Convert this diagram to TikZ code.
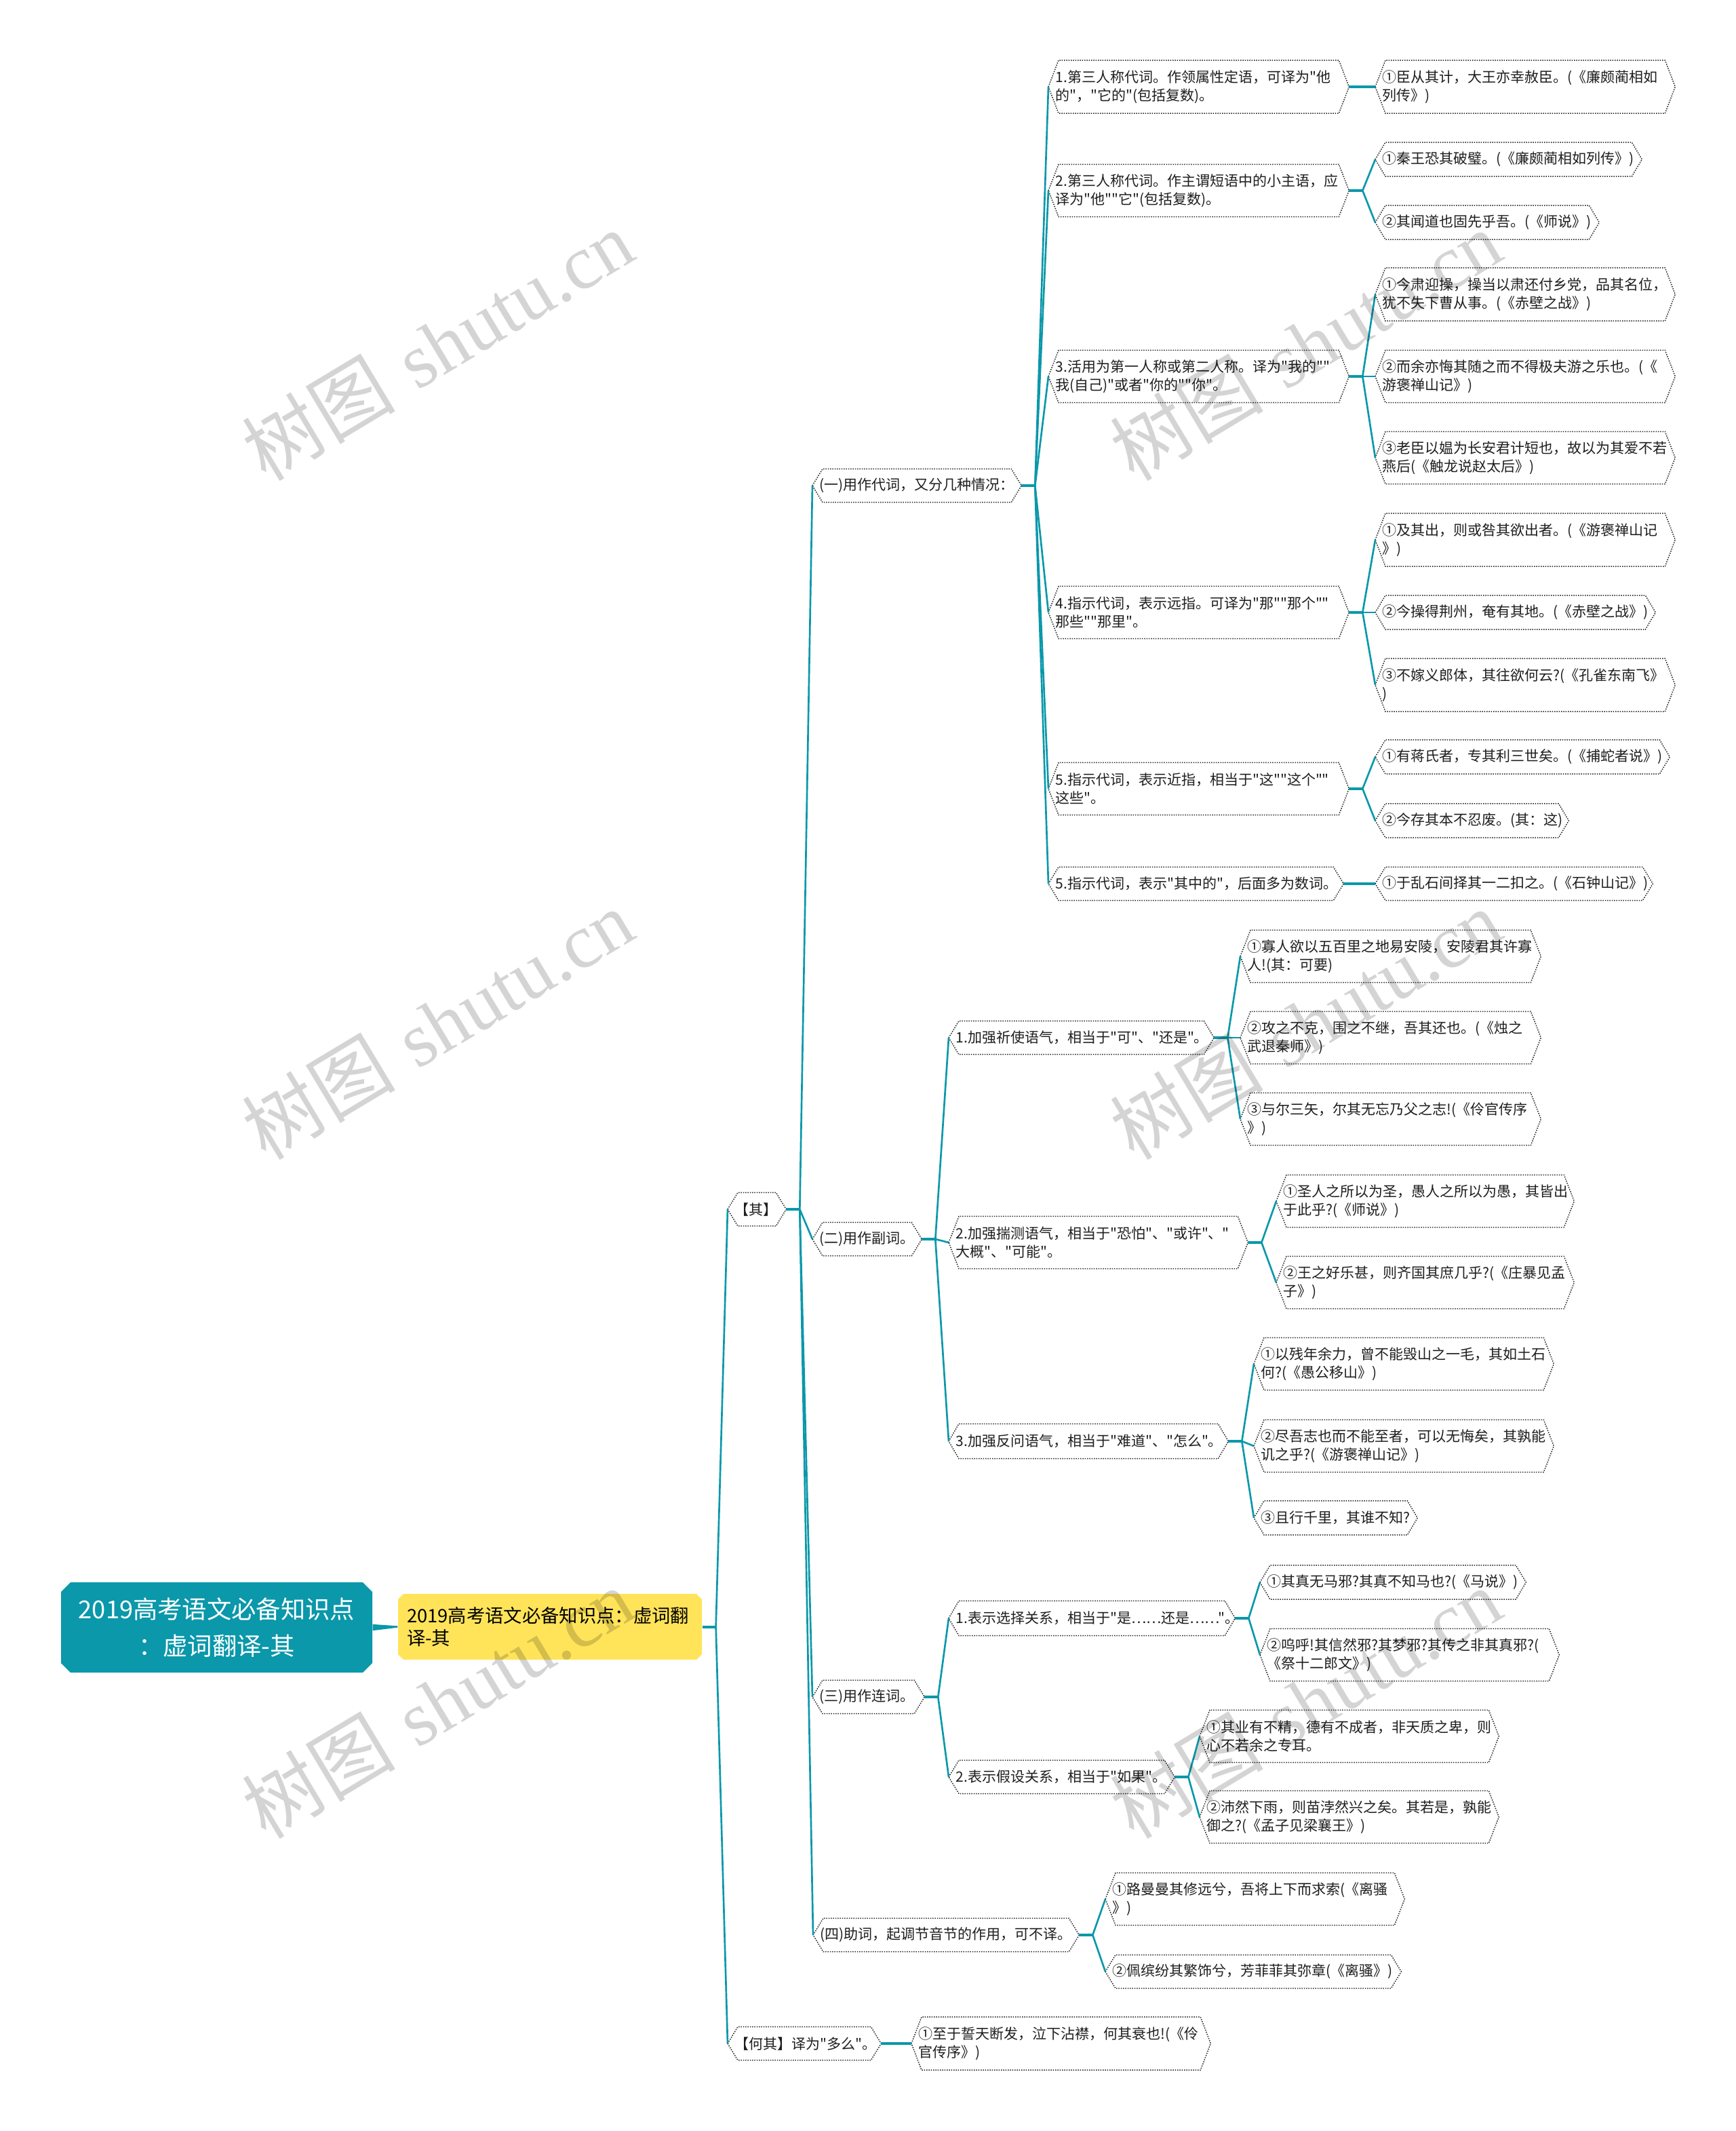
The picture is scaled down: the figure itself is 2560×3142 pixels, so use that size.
\documentclass[tikz,border=0pt]{standalone}
\usepackage{fontspec}
\setmainfont{Noto Sans CJK SC}[Ligatures=TeXOff]
\newfontfamily\wmserif{Liberation Serif}
\definecolor{tealc}{RGB}{10,152,170}
\definecolor{yelc}{RGB}{255,228,90}
\definecolor{txtc}{RGB}{30,30,30}
\tikzset{
 hexn/.style={rectangle, draw=none, inner xsep=3pt, inner ysep=0pt, align=left,
   font=\fontsize{6.3}{8}\selectfont, text=txtc, anchor=west},
 hexb/.style={draw=black!85, line width=0.45pt, dash pattern=on 0.45pt off 0.55pt},
 stub/.style={draw=tealc, line width=1.2pt},
 br/.style={draw=tealc, line width=0.8pt},
 wm/.style={text=black, opacity=0.17, rotate=31, font=\fontsize{34}{34}\selectfont, inner sep=0pt}
}
\newcommand\hx[6]{%
 \pgfmathsetmacro\hxw{(#3-#2)*0.3-6}%
 \pgfmathsetmacro\hxh{#5*0.3}%
 \node[hexn, text width=\hxw pt, minimum height=\hxh pt] (#1) at (#2,#4) {#6};
 \draw[hexb] (#1.west) -- ([xshift=4.5pt]#1.north west) -- ([xshift=-4.5pt]#1.north east) -- (#1.east) -- ([xshift=-4.5pt]#1.south east) -- ([xshift=4.5pt]#1.south west) -- cycle;}
\newcommand\junc[1]{\coordinate (#1j) at ([xshift=6pt]#1.east); \draw[stub] (#1.east) -- (#1j);}
\begin{document}
\begin{tikzpicture}[x=0.3pt,y=-0.3pt]
\fill[white] (0,0) rectangle (2560,3142);
\path[use as bounding box] (0,0) rectangle (2560,3142);

% root
\fill[tealc] (104,2333) -- (535,2333) -- (549,2347) -- (549,2452) -- (535,2466) -- (104,2466) -- (90,2452) -- (90,2347) -- cycle;
\node[rectangle, minimum width=137.7pt, minimum height=39.9pt, inner sep=0pt, align=center, text=white,
  font=\fontsize{10.9}{16}\selectfont] (root) at (319.5,2399.5) {2019高考语文必备知识点\\：虚词翻译-其};
% level 1
\fill[yelc] (595,2350) -- (1027,2350) -- (1035,2358) -- (1035,2439) -- (1027,2447) -- (595,2447) -- (587,2439) -- (587,2358) -- cycle;
\node[rectangle, minimum width=134.4pt, minimum height=29.1pt, inner xsep=3.9pt, inner ysep=0pt, text width=126.6pt, align=left,
  text=black, font=\fontsize{8.2}{10}\selectfont] (yel) at (811,2398.5) {2019高考语文必备知识点：虚词翻\\译-其};
\fill[tealc] ([yshift=1.4pt]root.east) -- ([yshift=0.35pt]yel.west) -- ([yshift=-0.35pt]yel.west) -- ([yshift=-1.4pt]root.east) -- cycle;

% level 2
\hx{q}{1073}{1158}{1783}{48}{【其】}
\hx{hq}{1073}{1298}{3013}{48}{【何其】译为"多么"。}
\hx{hq1}{1344}{1784}{3013}{77}{①至于誓天断发，泣下沾襟，何其衰也!(《伶\\官传序》)}

% level 3
\hx{a}{1198}{1505}{716}{48}{(一)用作代词，又分几种情况：}
\hx{b}{1198}{1358}{1827}{48}{(二)用作副词。}
\hx{c}{1198}{1362}{2502}{48}{(三)用作连词。}
\hx{d}{1199}{1590}{2853}{48}{(四)助词，起调节音节的作用，可不译。}

% (一)
\hx{a1}{1546}{1988}{128}{77}{1.第三人称代词。作领属性定语，可译为"他\\的"，"它的"(包括复数)。}
\hx{a2}{1546}{1988}{281}{76}{2.第三人称代词。作主谓短语中的小主语，应\\译为"他""它"(包括复数)。}
\hx{a3}{1546}{1988}{555}{76}{3.活用为第一人称或第二人称。译为"我的""\\我(自己)"或者"你的""你"。}
\hx{a4}{1546}{1988}{903}{76}{4.指示代词，表示远指。可译为"那""那个""\\那些""那里"。}
\hx{a5}{1546}{1988}{1163}{76}{5.指示代词，表示近指，相当于"这""这个""\\这些"。}
\hx{a6}{1546}{1980}{1303}{48}{5.指示代词，表示"其中的"，后面多为数词。}

\hx{a1x}{2028}{2469}{128}{77}{①臣从其计，大王亦幸赦臣。(《廉颇蔺相如\\列传》)}
\hx{a2x}{2028}{2420}{235}{49}{①秦王恐其破璧。(《廉颇蔺相如列传》)}
\hx{a2y}{2028}{2357}{328}{49}{②其闻道也固先乎吾。(《师说》)}
\hx{a3x}{2028}{2469}{434}{77}{①今肃迎操，操当以肃还付乡党，品其名位，\\犹不失下曹从事。(《赤壁之战》)}
\hx{a3y}{2028}{2469}{555}{76}{②而余亦悔其随之而不得极夫游之乐也。(《\\游褒禅山记》)}
\hx{a3z}{2028}{2469}{675}{76}{③老臣以媪为长安君计短也，故以为其爱不若\\燕后(《触龙说赵太后》)}
\hx{a4x}{2028}{2469}{796}{77}{①及其出，则或咎其欲出者。(《游褒禅山记\\》)}
\hx{a4y}{2028}{2440}{903}{49}{②今操得荆州，奄有其地。(《赤壁之战》)}
\hx{a4z}{2028}{2469}{1010}{77}{③不嫁义郎体，其往欲何云?(《孔雀东南飞》\\)}
\hx{a5x}{2028}{2461}{1116}{49}{①有蒋氏者，专其利三世矣。(《捕蛇者说》)}
\hx{a5y}{2028}{2312}{1210}{49}{②今存其本不忍废。(其：这)}
\hx{a6x}{2028}{2436}{1303}{48}{①于乱石间择其一二扣之。(《石钟山记》)}

% (二)
\hx{b1}{1399}{1789}{1530}{48}{1.加强祈使语气，相当于"可"、"还是"。}
\hx{b2}{1399}{1839}{1832}{76}{2.加强揣测语气，相当于"恐怕"、"或许"、"\\大概"、"可能"。}
\hx{b3}{1399}{1810}{2125}{50}{3.加强反问语气，相当于"难道"、"怎么"。}
\hx{b1x}{1829}{2271}{1410}{76}{①寡人欲以五百里之地易安陵，安陵君其许寡\\人!(其：可要)}
\hx{b1y}{1829}{2271}{1530}{76}{②攻之不克，围之不继，吾其还也。(《烛之\\武退秦师》)}
\hx{b1z}{1829}{2271}{1650}{76}{③与尔三矢，尔其无忘乃父之志!(《伶官传序\\》)}
\hx{b2x}{1882}{2320}{1771}{76}{①圣人之所以为圣，愚人之所以为愚，其皆出\\于此乎?(《师说》)}
\hx{b2y}{1882}{2320}{1891}{76}{②王之好乐甚，则齐国其庶几乎?(《庄暴见孟\\子》)}
\hx{b3x}{1849}{2290}{2011}{76}{①以残年余力，曾不能毁山之一毛，其如土石\\何?(《愚公移山》)}
\hx{b3y}{1849}{2290}{2132}{76}{②尽吾志也而不能至者，可以无悔矣，其孰能\\讥之乎?(《游褒禅山记》)}
\hx{b3z}{1849}{2089}{2238}{49}{③且行千里，其谁不知?}

% (三)
\hx{c1}{1399}{1820}{2386}{50}{1.表示选择关系，相当于"是……还是……"。}
\hx{c2}{1399}{1731}{2620}{48}{2.表示假设关系，相当于"如果"。}
\hx{c1x}{1858}{2249}{2333}{49}{①其真无马邪?其真不知马也?(《马说》)}
\hx{c1y}{1858}{2298}{2440}{76}{②呜呼!其信然邪?其梦邪?其传之非其真邪?(\\《祭十二郎文》)}
\hx{c2x}{1769}{2209}{2560}{76}{①其业有不精，德有不成者，非天质之卑，则\\心不若余之专耳。}
\hx{c2y}{1769}{2209}{2679}{76}{②沛然下雨，则苗浡然兴之矣。其若是，孰能\\御之?(《孟子见梁襄王》)}

% (四)
\hx{d1}{1630}{2070}{2800}{76}{①路曼曼其修远兮，吾将上下而求索(《离骚\\》)}
\hx{d2}{1630}{2065}{2907}{48}{②佩缤纷其繁饰兮，芳菲菲其弥章(《离骚》)}

% connectors
\junc{yel}
\foreach \t in {q,hq} \draw[br] (yelj) -- (\t.west);
\draw[stub] (hq.east) -- (hq1.west);
\junc{q}
\foreach \t in {a,b,c,d} \draw[br] (qj) -- (\t.west);
\junc{a}
\foreach \t in {a1,a2,a3,a4,a5,a6} \draw[br] (aj) -- (\t.west);
\draw[stub] (a1.east) -- (a1x.west);
\draw[stub] (a6.east) -- (a6x.west);
\junc{a2}
\foreach \t in {a2x,a2y} \draw[br] (a2j) -- (\t.west);
\junc{a3}
\foreach \t in {a3x,a3y,a3z} \draw[br] (a3j) -- (\t.west);
\junc{a4}
\foreach \t in {a4x,a4y,a4z} \draw[br] (a4j) -- (\t.west);
\junc{a5}
\foreach \t in {a5x,a5y} \draw[br] (a5j) -- (\t.west);
\junc{b}
\foreach \t in {b1,b2,b3} \draw[br] (bj) -- (\t.west);
\junc{b1}
\foreach \t in {b1x,b1y,b1z} \draw[br] (b1j) -- (\t.west);
\junc{b2}
\foreach \t in {b2x,b2y} \draw[br] (b2j) -- (\t.west);
\junc{b3}
\foreach \t in {b3x,b3y,b3z} \draw[br] (b3j) -- (\t.west);
\junc{c}
\foreach \t in {c1,c2} \draw[br] (cj) -- (\t.west);
\junc{c1}
\foreach \t in {c1x,c1y} \draw[br] (c1j) -- (\t.west);
\junc{c2}
\foreach \t in {c2x,c2y} \draw[br] (c2j) -- (\t.west);
\junc{d}
\foreach \t in {d1,d2} \draw[br] (dj) -- (\t.west);

% watermarks
\node[wm] (wm1) at (645,509) {树图\hspace{0.3em}{\wmserif shutu.cn}};
\node[wm] (wm2) at (1925,509) {树图\hspace{0.3em}{\wmserif shutu.cn}};
\node[wm] (wm3) at (645,1510) {树图\hspace{0.3em}{\wmserif shutu.cn}};
\node[wm] (wm4) at (1925,1510) {树图\hspace{0.3em}{\wmserif shutu.cn}};
\node[wm] (wm5) at (645,2511) {树图\hspace{0.3em}{\wmserif shutu.cn}};
\node[wm] (wm6) at (1925,2511) {树图\hspace{0.3em}{\wmserif shutu.cn}};
\end{tikzpicture}
\end{document}
